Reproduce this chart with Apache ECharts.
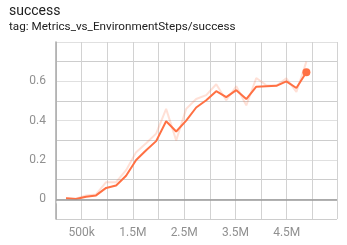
<!DOCTYPE html>
<html>
<head>
<meta charset="utf-8">
<script src="https://cdn.jsdelivr.net/npm/echarts@6/dist/echarts.min.js"></script>
<style>
html,body{margin:0;padding:0;background:#fff;}
#c{width:347px;height:245px;}
</style>
</head>
<body>
<div id="c"></div>
<script>
var steps = [195000, 390000, 586000, 781000, 977000, 1172000, 1367000, 1563000, 1758000, 1953000, 2148000, 2344000, 2539000, 2734000, 2930000, 3125000, 3320000, 3516000, 3711000, 3906000, 4102000, 4297000, 4492000, 4688000, 4883000];
var smoothed = [0.005, 0.002, 0.013, 0.02, 0.058, 0.07, 0.12, 0.2, 0.25, 0.296, 0.397, 0.345, 0.4, 0.467, 0.504, 0.55, 0.52, 0.555, 0.51, 0.573, 0.575, 0.577, 0.6, 0.566, 0.646];
var raw = [0.005, 0.003, 0.02, 0.025, 0.087, 0.087, 0.148, 0.24, 0.285, 0.334, 0.46, 0.30, 0.46, 0.51, 0.53, 0.585, 0.504, 0.575, 0.478, 0.617, 0.58, 0.577, 0.615, 0.546, 0.70];
var yLabels = ['0', '0.2', '0.4', '0.6'];
var xLabels = ['500k', '1.5M', '2.5M', '3.5M', '4.5M'];

function pairs(xs, ys) { return xs.map(function (x, i) { return [x, ys[i]]; }); }

var chart = echarts.init(document.getElementById('c'), null, {renderer: 'canvas'});
chart.setOption({
  animation: false,
  title: {
    text: 'success',
    subtext: 'tag: Metrics_vs_EnvironmentSteps/success',
    left: 4, top: -1,
    itemGap: 3,
    textStyle: {fontFamily: 'Roboto', fontSize: 14, fontWeight: 'normal', color: '#212121'},
    subtextStyle: {fontFamily: 'Roboto', fontSize: 11.7, color: '#212121'}
  },
  grid: {left: 56, right: 10, top: 42, bottom: 26},
  xAxis: {
    type: 'value', min: 0, max: 5480000, interval: 500000,
    axisLine: {show: false},
    axisTick: {show: true, length: 4, lineStyle: {color: '#d6d6d6'}},
    splitLine: {show: true, lineStyle: {color: '#d2d2d2', width: 1}},
    axisLabel: {
      fontFamily: 'Roboto', fontSize: 12, color: '#909090', margin: 8,
      showMaxLabel: false,
      formatter: function (v) {
        var idx = Math.round(v / 500000);
        if (idx % 2 === 1) { return xLabels[(idx - 1) / 2] || ''; }
        return '';
      }
    }
  },
  yAxis: {
    type: 'value', min: -0.1, max: 0.8, interval: 0.1,
    axisLine: {show: true, lineStyle: {color: '#a8a8a8', width: 1.5}},
    axisTick: {show: false},
    splitLine: {show: true, lineStyle: {color: ['#cdcdcd', '#e0e0e0'], width: 1}},
    axisLabel: {
      fontFamily: 'Roboto', fontSize: 12, color: '#909090', margin: 10,
      formatter: function (v) {
        var k = Math.round(v * 10);
        if (k >= 0 && k % 2 === 0 && k <= 6) { return yLabels[k / 2]; }
        return '';
      }
    }
  },
  series: [
    {
      type: 'line', data: pairs(steps, raw), symbol: 'none', z: 2,
      lineStyle: {color: 'rgba(255,112,67,0.22)', width: 2}
    },
    {
      type: 'line', data: pairs(steps, smoothed), z: 3,
      symbol: 'circle', symbolSize: function (v, p) { return p.dataIndex === steps.length - 1 ? 8 : 0; },
      showSymbol: true,
      itemStyle: {color: '#ff7043'},
      lineStyle: {color: '#ff7043', width: 2},
      markLine: {
        silent: true, symbol: 'none', label: {show: false},
        lineStyle: {color: '#999', type: 'solid', width: 1.5},
        data: [{yAxis: 0}]
      }
    }
  ]
});
</script>
</body>
</html>
